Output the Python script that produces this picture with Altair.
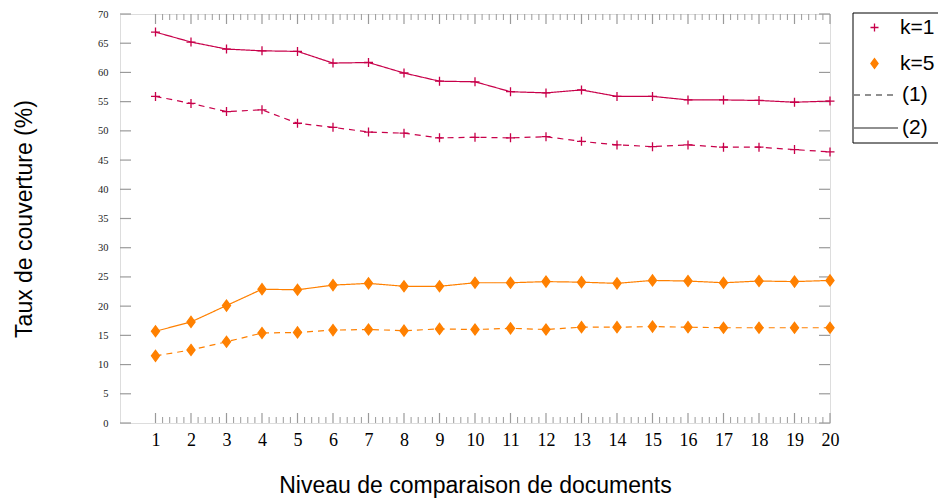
import altair as alt
import pandas as pd

levels = list(range(1, 21))
k1_s2 = [66.9, 65.2, 64.0, 63.7, 63.6, 61.6, 61.7, 59.9, 58.5, 58.4, 56.7, 56.5, 57.0, 55.9, 55.9, 55.3, 55.3, 55.2, 54.9, 55.1]
k1_s1 = [55.9, 54.7, 53.3, 53.6, 51.3, 50.6, 49.8, 49.6, 48.8, 48.9, 48.8, 49.0, 48.2, 47.6, 47.3, 47.6, 47.2, 47.2, 46.8, 46.4]
k5_s2 = [15.7, 17.3, 20.1, 22.9, 22.8, 23.6, 23.9, 23.4, 23.4, 24.0, 24.0, 24.2, 24.1, 23.9, 24.4, 24.3, 24.0, 24.3, 24.2, 24.4]
k5_s1 = [11.5, 12.5, 13.9, 15.4, 15.5, 15.9, 16.0, 15.8, 16.1, 16.0, 16.2, 16.0, 16.4, 16.4, 16.5, 16.4, 16.3, 16.3, 16.3, 16.3]
k_names = ["k=1", "k=5"]
serie_names = ["(1)", "(2)"]
y_ticks = list(range(0, 71, 5))
x_major = list(range(1, 21))
x_minor = [round(i + j * 0.2, 1) for i in range(1, 20) for j in range(1, 5)]

CRIMSON = "#C8004A"
ORANGE = "#FF8000"
W, H = 710, 409

rows = []
for k, s, vals in [("k=1", "(2)", k1_s2), ("k=1", "(1)", k1_s1), ("k=5", "(2)", k5_s2), ("k=5", "(1)", k5_s1)]:
    for x, v in zip(levels, vals):
        rows.append({"x": x, "y": v, "k": k, "serie": s})
df = pd.DataFrame(rows)

x_scale = alt.Scale(domain=[0, 20], nice=False, zero=False)
y_scale = alt.Scale(domain=[0, 70], nice=False)

x_axis = alt.Axis(values=x_major, title="Niveau de comparaison de documents", grid=False, domain=False,
                  ticks=False, tickSize=0, labelPadding=17, labelBaseline="middle", labelFlush=False,
                  labelFont="Liberation Serif", labelFontSize=18, labelColor="black",
                  titleFont="Liberation Sans", titleFontSize=23, titleFontWeight="normal", titleColor="black",
                  titleX=W / 2, titleY=62, titleBaseline="middle", titleAlign="center")
y_axis = alt.Axis(values=y_ticks, title="Taux de couverture (%)", grid=False, domain=False,
                  ticks=False, tickSize=0, labelPadding=12, labelFlush=False,
                  labelFont="Liberation Serif", labelFontSize=10.5, labelColor="#222",
                  titleFont="Liberation Sans", titleFontSize=23, titleFontWeight="normal", titleColor="black",
                  titleX=-96, titleY=H / 2, titleBaseline="middle", titleAlign="center", titleAngle=-90)

X = alt.X("x:Q", scale=x_scale, axis=x_axis)
Y = alt.Y("y:Q", scale=y_scale, axis=y_axis)

plus_path = "M-1,0L1,0M0,-1L0,1"
diamond_path = "M0,-1.22L0.9,0L0,1.22L-0.9,0Z"

k_legend = alt.Legend(title=None, orient="none", legendX=744, legendY=3, padding=0,
                      symbolSize=64, symbolStrokeWidth=1.3, labelOffset=15, rowPadding=14,
                      labelFont="Liberation Sans", labelFontSize=21, labelColor="black")

lines = alt.Chart(df).mark_line(strokeWidth=1.2).encode(
    x=X, y=Y,
    color=alt.Color("k:N", scale=alt.Scale(domain=k_names, range=[CRIMSON, ORANGE]), legend=k_legend),
    strokeDash=alt.StrokeDash("serie:N", scale=alt.Scale(domain=serie_names, range=[[6, 5], [1, 0]]),
                              legend=alt.Legend(title=None, orient="none", legendX=733, legendY=58,
                                                padding=0, symbolSize=1936, symbolStrokeColor="#222",
                                                symbolStrokeWidth=1.2, labelOffset=3, rowPadding=0,
                                                labelFont="Liberation Sans", labelFontSize=21,
                                                labelColor="black")),
)

points = alt.Chart(df).mark_point(strokeWidth=1.3, opacity=1, size=81).encode(
    x=X, y=Y,
    shape=alt.Shape("k:N", scale=alt.Scale(domain=k_names, range=[plus_path, diamond_path]), legend=k_legend),
    stroke=alt.Stroke("k:N", scale=alt.Scale(domain=k_names, range=[CRIMSON, ORANGE]), legend=k_legend),
    fill=alt.Fill("k:N", scale=alt.Scale(domain=k_names, range=["transparent", ORANGE]), legend=k_legend),
)

tick_color = "#9a9a9a"
ydf = pd.DataFrame({"y": y_ticks})
xmaj = pd.DataFrame({"x": x_major})
xmin = pd.DataFrame({"x": x_minor})

yt_left = alt.Chart(ydf).mark_rule(color=tick_color, strokeWidth=1.2).encode(
    y=Y, x=alt.value(0), x2=alt.value(11))
yt_right = alt.Chart(ydf).mark_rule(color=tick_color, strokeWidth=1.2).encode(
    y=Y, x=alt.value(W), x2=alt.value(W - 11))
xt_maj_b = alt.Chart(xmaj).mark_rule(color=tick_color, strokeWidth=1.2).encode(
    x=X, y=alt.value(H), y2=alt.value(H - 10))
xt_maj_t = alt.Chart(xmaj).mark_rule(color=tick_color, strokeWidth=1.2).encode(
    x=X, y=alt.value(0), y2=alt.value(10))
xt_min_b = alt.Chart(xmin).mark_rule(color=tick_color, strokeWidth=1).encode(
    x=X, y=alt.value(H), y2=alt.value(H - 6))
xt_min_t = alt.Chart(xmin).mark_rule(color=tick_color, strokeWidth=1).encode(
    x=X, y=alt.value(0), y2=alt.value(6))

legend_box = alt.Chart(pd.DataFrame({"a": [0]})).mark_rect(
    fillOpacity=0, stroke="black", strokeWidth=1).encode(
    x=alt.value(733), x2=alt.value(900), y=alt.value(-1), y2=alt.value(129))

chart = alt.layer(
    yt_left, yt_right, xt_maj_b, xt_maj_t, xt_min_b, xt_min_t,
    lines, points, legend_box
).properties(
    width=W, height=H,
    autosize=alt.AutoSizeParams(type="none"),
    padding={"left": 112, "top": 6, "right": 108, "bottom": 75},
).configure_view(stroke="black", strokeWidth=1).configure(background="white")

chart.save("out.html", embed_options={"renderer": "svg", "actions": False})
